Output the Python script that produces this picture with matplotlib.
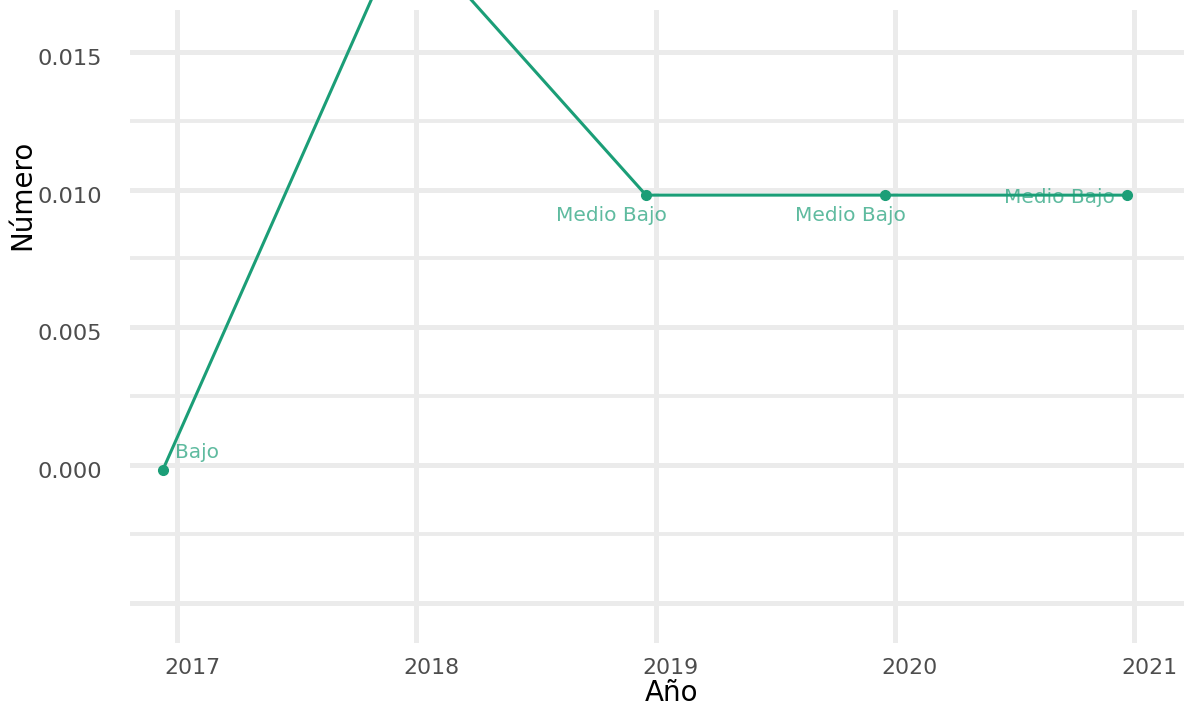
import matplotlib
matplotlib.use('Agg')
import matplotlib.pyplot as plt
from matplotlib.transforms import ScaledTranslation

# data
anios = [2016.94, 2017.95, 2018.96, 2019.96, 2020.97]
valores = [-0.00018, 0.0196, 0.0098, 0.0098, 0.0098]
etiquetas = ['Bajo', None, 'Medio Bajo', 'Medio Bajo', 'Medio Bajo']
xticks = [2017, 2018, 2019, 2020, 2021]
yticks = [0.000, 0.005, 0.010, 0.015]

verde = '#1b9e77'
gris_grid = '#ebebeb'
gris_txt = '#4d4d4d'

W, H = 1184, 711
fig = plt.figure(figsize=(W / 100, H / 100), dpi=100)
# panel in pixel terms: left 130, right 1184, top 10, bottom 643
ax = fig.add_axes([130 / W, 1 - 643 / H, (W - 130) / W, (643 - 10) / H])

ax.set_xlim(2016.803, 2021.209)
ax.set_ylim(-0.00646, 0.01652)

for s in ax.spines.values():
    s.set_visible(False)

# gridlines, ggplot minimal style
for yv in [-0.005, 0.0, 0.005, 0.010, 0.015]:
    ax.axhline(yv, color=gris_grid, lw=3.6, zorder=0)
for yv in [-0.0025, 0.0025, 0.0075, 0.0125]:
    ax.axhline(yv, color=gris_grid, lw=2.8, zorder=0)
for xv in xticks:
    ax.axvline(xv, color=gris_grid, lw=3.6, zorder=0)

ax.plot(anios, valores, color=verde, lw=2.2, clip_on=False, zorder=3)
ax.plot(anios, valores, 'o', color=verde, ms=7, clip_on=False, zorder=4)

# labels next to the points (offsets in pixels)
offsets = {0: (12, 18, 'left'),
           2: (21, -20, 'right'),
           3: (21, -20, 'right'),
           4: (-12, -2, 'right')}
for i, lab in enumerate(etiquetas):
    if lab is None:
        continue
    dx, dy, ha = offsets[i]
    ax.annotate(lab, (anios[i], valores[i]), xytext=(dx * 0.72, dy * 0.72),
                textcoords='offset points', ha=ha, va='center', fontsize=14.5,
                color=verde, alpha=0.7, family='DejaVu Sans', zorder=5)

ax.set_xticks(xticks)
ax.set_xticklabels([str(x) for x in xticks], family='DejaVu Sans',
                   fontsize=15.8, color=gris_txt)
ax.set_yticks(yticks)
ax.set_yticklabels(['%.3f' % v for v in yticks], family='DejaVu Sans',
                   fontsize=16.2, color=gris_txt)
ax.tick_params(length=0)
ax.tick_params(axis='x', pad=11)
ax.tick_params(axis='y', pad=20)

# labels sit a little off their gridlines in the reference
for lab in ax.get_xticklabels():
    lab.set_transform(lab.get_transform() + ScaledTranslation(15 / 100, 0, fig.dpi_scale_trans))
for lab in ax.get_yticklabels():
    lab.set_transform(lab.get_transform() + ScaledTranslation(0, -5 / 100, fig.dpi_scale_trans))

fig.text(672 / W, 1 - 693 / H, 'Año', ha='center', va='center',
         family='DejaVu Sans', fontsize=20, color='black')
fig.text(22 / W, 1 - 195 / H, 'Número', ha='center', va='center',
         rotation=90, family='DejaVu Sans', fontsize=20, color='black')

fig.savefig('out.png', dpi=100)
